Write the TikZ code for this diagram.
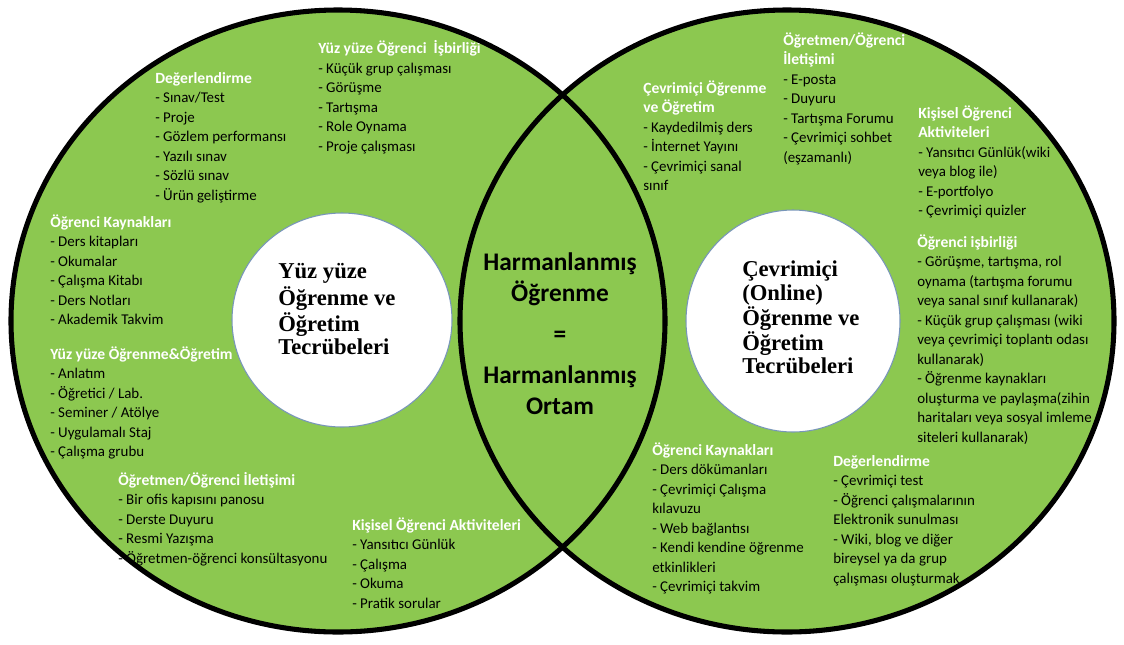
\documentclass[tikz,border=0pt]{standalone}
\usepackage{fontspec}
\usetikzlibrary{shapes.geometric}
\setmainfont{Carlito}
\newfontfamily\timesb{Liberation Serif}
\definecolor{vgreen}{RGB}{140,200,80}
\definecolor{cedge}{RGB}{120,150,185}
\newcommand\hd[1]{{\color{white}\bfseries\fontsize{11.7}{14.6}\selectfont #1}}
\tikzset{
  blk/.style={anchor=north west, inner sep=0pt, align=left, text=black,
    font=\fontsize{11.2}{14.6}\selectfont},
  bigring/.style={line width=3.8pt, draw=black},
  whitec/.style={fill=white, draw=cedge, line width=0.8pt},
  inner/.style={anchor=north west, inner sep=0pt, align=left,
    font=\timesb\bfseries\fontsize{17}{17.6}\selectfont},
  mid/.style={anchor=north, inner sep=0pt, align=center,
    font=\bfseries\fontsize{19}{23.3}\selectfont}
}
\begin{document}
\begin{tikzpicture}[x=0.75pt,y=-0.75pt]
\useasboundingbox (0,0) rectangle (1124,644);
\fill[white] (0,0) rectangle (1124,644);
% green fills
\fill[vgreen] (338,321) ellipse [x radius=327, y radius=311];
\fill[vgreen] (787,321) ellipse [x radius=327, y radius=311];
% white inner circles
\node[whitec, ellipse, minimum width=220*0.75pt, minimum height=214*0.75pt, inner sep=0pt] (lw) at (342,320) {};
\node[whitec, ellipse, minimum width=214*0.75pt, minimum height=222*0.75pt, inner sep=0pt] (rw) at (793,321) {};
\node[inner] (lt) at (278,262) {\strut Yüz yüze\\Öğrenme ve\\Öğretim\\Tecrübeleri};
\node[inner] (rt) at (742,260) {\strut Çevrimiçi\\(Online)\\Öğrenme ve\\Öğretim\\Tecrübeleri};
% centre text
\node[mid] (ct) at (560,248) {\strut Harmanlanmış\\Öğrenme\\[7.5pt]=\\[7.5pt]Harmanlanmış\\Ortam};
% left blocks
\node[blk] (l1) at (155,69.5) {\strut\hd{Değerlendirme}\\- Sınav/Test\\- Proje\\- Gözlem performansı\\- Yazılı sınav\\- Sözlü sınav\\- Ürün geliştirme};
\node[blk] (l2) at (318,40) {\strut\hd{Yüz yüze Öğrenci\ \ İşbirliği}\\- Küçük grup çalışması\\- Görüşme\\- Tartışma\\- Role Oynama\\- Proje çalışması};
\node[blk] (l3) at (50,213.5) {\strut\hd{Öğrenci Kaynakları}\\- Ders kitapları\\- Okumalar\\- Çalışma Kitabı\\- Ders Notları\\- Akademik Takvim};
\node[blk] (l4) at (50,345.5) {\strut\hd{Yüz yüze Öğrenme\&Öğretim}\\- Anlatım\\- Öğretici / Lab.\\- Seminer / Atölye\\- Uygulamalı Staj\\- Çalışma grubu};
\node[blk] (l5) at (118,471.5) {\strut\hd{Öğretmen/Öğrenci İletişimi}\\- Bir ofis kapısını panosu\\- Derste Duyuru\\- Resmi Yazışma\\- Öğretmen-öğrenci konsültasyonu};
\node[blk] (l6) at (352,516.5) {\strut\hd{Kişisel Öğrenci Aktiviteleri}\\- Yansıtıcı Günlük\\- Çalışma\\- Okuma\\- Pratik sorular};
% right blocks
\node[blk] (r1) at (643,79.5) {\strut\hd{Çevrimiçi Öğrenme}\\\hd{ve Öğretim}\\- Kaydedilmiş ders\\- İnternet Yayını\\- Çevrimiçi sanal\\sınıf};
\node[blk] (r2) at (783,31.5) {\strut\hd{Öğretmen/Öğrenci}\\\hd{İletişimi}\\- E-posta\\- Duyuru\\- Tartışma Forumu\\- Çevrimiçi sohbet\\(eşzamanlı)};
\node[blk] (r3) at (918,104.5) {\strut\hd{Kişisel Öğrenci}\\\hd{Aktiviteleri}\\- Yansıtıcı Günlük(wiki\\veya blog ile)\\- E-portfolyo\\- Çevrimiçi quizler};
\node[blk] (r4) at (917,233.5) {\strut\hd{Öğrenci işbirliği}\\- Görüşme, tartışma, rol\\oynama (tartışma forumu\\veya sanal sınıf kullanarak)\\- Küçük grup çalışması (wiki\\veya çevrimiçi toplantı odası\\kullanarak)\\- Öğrenme kaynakları\\oluşturma ve paylaşma(zihin\\haritaları veya sosyal imleme\\siteleri kullanarak)};
\node[blk] (r5) at (652,441.5) {\strut\hd{Öğrenci Kaynakları}\\- Ders dökümanları\\- Çevrimiçi Çalışma\\kılavuzu\\- Web bağlantısı\\- Kendi kendine öğrenme\\etkinlikleri\\- Çevrimiçi takvim};
\node[blk] (r6) at (833,452.5) {\strut\hd{Değerlendirme}\\- Çevrimiçi test\\- Öğrenci çalışmalarının\\Elektronik sunulması\\- Wiki, blog ve diğer\\bireysel ya da grup\\çalışması oluşturmak};
% outlines on top
\draw[bigring] (338,321) ellipse [x radius=327, y radius=311];
\draw[bigring] (787,321) ellipse [x radius=327, y radius=311];
\end{tikzpicture}
\end{document}
